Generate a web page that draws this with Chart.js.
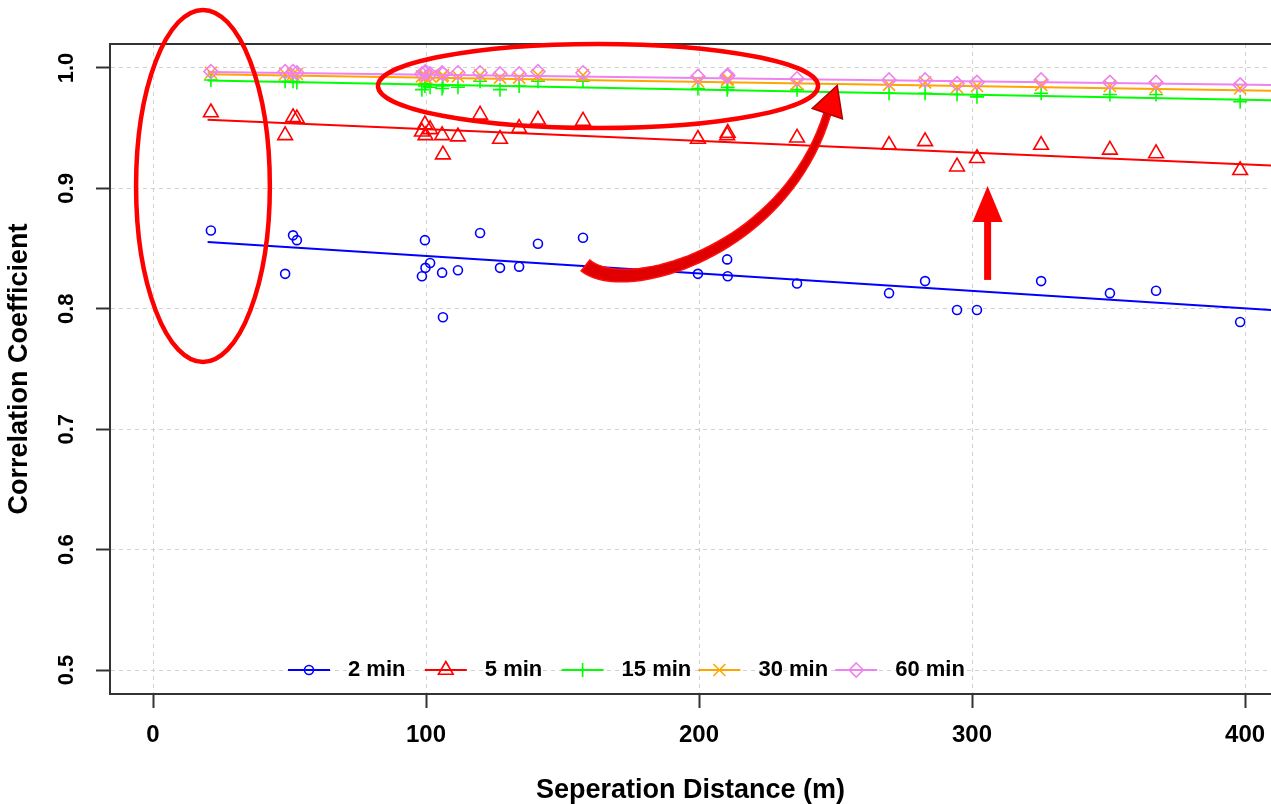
<!DOCTYPE html>
<html><head><meta charset="utf-8">
<script src="https://cdn.jsdelivr.net/npm/chart.js@4.4.1/dist/chart.umd.min.js"></script>
<style>html,body{margin:0;padding:0;background:#fff;}canvas{display:block;}</style>
</head><body>
<canvas id="c" width="1271" height="804"></canvas>
<script>
// ---- data ----
const distances = [21.2, 48.4, 51.3, 52.7, 98.5, 99.6, 99.8, 101.5, 105.9, 106.2, 111.7, 119.8, 127.1, 134.1, 141.0, 157.5, 199.6, 210.3, 210.5, 235.9, 269.6, 282.8, 294.5, 301.8, 325.3, 350.5, 367.4, 398.2];
const corr2min  = [0.865, 0.829, 0.861, 0.857, 0.827, 0.857, 0.834, 0.838, 0.830, 0.793, 0.832, 0.863, 0.834, 0.835, 0.854, 0.859, 0.829, 0.841, 0.827, 0.821, 0.813, 0.823, 0.799, 0.799, 0.823, 0.813, 0.815, 0.789];
const corr5min  = [0.963, 0.944, 0.959, 0.958, 0.947, 0.953, 0.944, 0.949, 0.944, 0.928, 0.943, 0.961, 0.941, 0.950, 0.957, 0.956, 0.941, 0.944, 0.946, 0.942, 0.936, 0.939, 0.918, 0.925, 0.936, 0.932, 0.929, 0.915];
const corr15min = [0.990, 0.989, 0.989, 0.988, 0.982, 0.985, 0.987, 0.984, 0.983, 0.985, 0.984, 0.989, 0.982, 0.985, 0.989, 0.989, 0.983, 0.982, 0.984, 0.982, 0.979, 0.979, 0.978, 0.976, 0.979, 0.978, 0.978, 0.972];
const corr30min = [0.996, 0.995, 0.995, 0.995, 0.993, 0.994, 0.992, 0.993, 0.993, 0.994, 0.993, 0.994, 0.992, 0.992, 0.994, 0.994, 0.989, 0.990, 0.991, 0.987, 0.986, 0.988, 0.984, 0.985, 0.986, 0.985, 0.984, 0.983];
const corr60min = [0.997, 0.997, 0.997, 0.996, 0.995, 0.996, 0.997, 0.995, 0.996, 0.995, 0.996, 0.996, 0.995, 0.995, 0.997, 0.996, 0.993, 0.993, 0.994, 0.991, 0.990, 0.990, 0.987, 0.988, 0.990, 0.988, 0.988, 0.986];
// fitted trend lines: value at start and end distance
const fitX      = [20, 420];
const fit2min   = [0.8555, 0.7975];
const fit5min   = [0.957, 0.918];
const fit15min  = [0.9896, 0.9728];
const fit30min  = [0.9947, 0.9807];
const fit60min  = [0.9966, 0.9856];
const seriesNames = ['2 min', '5 min', '15 min', '30 min', '60 min'];
const xTickValues = [0, 100, 200, 300, 400];
const yTickValues = [0.5, 0.6, 0.7, 0.8, 0.9, 1.0];
const yTickLabels = ['0.5', '0.6', '0.7', '0.8', '0.9', '1.0'];
const xTitle = 'Seperation Distance (m)';
const yTitle = 'Correlation Coefficient';

// ---- styles ----
const colors = ['#0000FF', '#FF0000', '#00FF00', '#FFA500', '#EE82EE'];
const pStyles = ['circle', 'triangle', 'cross', 'crossRot', 'rectRot'];
const pRadius = [4.5, 8.5, 7, 8.5, 7];
const FONT = '"Liberation Sans", Arial, sans-serif';

const seriesVals = [corr2min, corr5min, corr15min, corr30min, corr60min];
const fitVals = [fit2min, fit5min, fit15min, fit30min, fit60min];

const datasets = [];
seriesVals.forEach((vals, s) => {
  datasets.push({
    label: seriesNames[s],
    data: distances.map((d, i) => ({x: d, y: vals[i]})),
    showLine: false,
    pointStyle: pStyles[s],
    pointRadius: pRadius[s],
    pointBorderWidth: 1.6,
    pointBorderColor: colors[s],
    pointBackgroundColor: 'rgba(0,0,0,0)',
    borderColor: colors[s],
    order: (4 - s) * 2 + 1
  });
  datasets.push({
    label: seriesNames[s] + ' fit',
    data: fitX.map((d, i) => ({x: d, y: fitVals[s][i]})),
    showLine: true,
    pointRadius: 0,
    borderColor: colors[s],
    borderWidth: 2,
    fill: false,
    order: (4 - s) * 2
  });
});

function drawMarker(ctx, style, x, y, r, color) {
  ctx.save();
  ctx.strokeStyle = color; ctx.lineWidth = 1.6;
  ctx.beginPath();
  if (style === 'circle') { ctx.arc(x, y, r, 0, Math.PI * 2); }
  else if (style === 'triangle') {
    for (let k = 0; k < 3; k++) {
      const a = k * 2 * Math.PI / 3;
      const px = x + Math.sin(a) * r, py = y - Math.cos(a) * r;
      if (k === 0) ctx.moveTo(px, py); else ctx.lineTo(px, py);
    }
    ctx.closePath();
  } else if (style === 'cross') {
    ctx.moveTo(x - r, y); ctx.lineTo(x + r, y); ctx.moveTo(x, y - r); ctx.lineTo(x, y + r);
  } else if (style === 'crossRot') {
    const o = r * Math.SQRT1_2;
    ctx.moveTo(x - o, y - o); ctx.lineTo(x + o, y + o); ctx.moveTo(x - o, y + o); ctx.lineTo(x + o, y - o);
  } else if (style === 'rectRot') {
    ctx.moveTo(x, y - r); ctx.lineTo(x + r, y); ctx.lineTo(x, y + r); ctx.lineTo(x - r, y); ctx.closePath();
  }
  ctx.stroke();
  ctx.restore();
}

const framePlugin = {
  id: 'frame',
  afterDraw(chart) {
    const {ctx, chartArea} = chart;
    ctx.save();
    ctx.strokeStyle = '#333'; ctx.lineWidth = 2;
    ctx.beginPath(); ctx.moveTo(chartArea.left - 1, chartArea.top); ctx.lineTo(chartArea.right, chartArea.top); ctx.stroke();
    ctx.restore();
  }
};

const legendPlugin = {
  id: 'innerLegend',
  afterDraw(chart) {
    const {ctx, chartArea} = chart;
    const y = chartArea.bottom - 24;
    const x0 = chartArea.left + 178, step = 136.8, lineLen = 42, textOff = 60;
    ctx.save();
    ctx.font = 'bold 22px ' + FONT;
    ctx.textBaseline = 'middle'; ctx.textAlign = 'left'; ctx.fillStyle = '#000';
    seriesNames.forEach((name, s) => {
      const lx = x0 + s * step;
      ctx.strokeStyle = colors[s]; ctx.lineWidth = 2;
      ctx.beginPath(); ctx.moveTo(lx, y); ctx.lineTo(lx + lineLen, y); ctx.stroke();
      drawMarker(ctx, pStyles[s], lx + lineLen / 2, y, pRadius[s], colors[s]);
      ctx.fillText(name, lx + textOff, y);
    });
    ctx.restore();
  }
};

// hand-drawn highlight annotations (positions in data units, mapped through the scales)
const annotationPlugin = {
  id: 'marks',
  afterDraw(chart) {
    const {ctx} = chart;
    const xs = chart.scales.x, ys = chart.scales.y;
    const X = v => xs.getPixelForValue(v), Y = v => ys.getPixelForValue(v);
    const DX = d => X(d) - X(0), DY = d => Y(0) - Y(d);
    ctx.save();
    ctx.strokeStyle = '#FF0000'; ctx.lineWidth = 4.5;
    // left ellipse
    ctx.beginPath(); ctx.ellipse(X(18.3), Y(0.902), DX(24.5), DY(0.1462), 0, 0, Math.PI * 2); ctx.stroke();
    // top ellipse
    ctx.beginPath(); ctx.ellipse(X(163.0), Y(0.985), DX(80.6), DY(0.0349), 0, 0, Math.PI * 2); ctx.stroke();
    // straight arrow
    const ax = X(305.7), aTail = Y(0.824), aBase = Y(0.8738), aTip = Y(0.902);
    ctx.fillStyle = '#FF0000';
    ctx.fillRect(ax - 3.5, aBase, 7, aTail - aBase);
    ctx.beginPath(); ctx.moveTo(ax - 15, aBase + 2); ctx.lineTo(ax, aTip); ctx.lineTo(ax + 15, aBase + 2); ctx.closePath(); ctx.fill();
    // curved swoosh arrow
    const P = [[158.4, 0.836], [172.7, 0.809], [231.3, 0.846], [247.0, 0.962]].map(p => [X(p[0]), Y(p[1])]);
    const bez = t => {
      const u = 1 - t;
      return [u*u*u*P[0][0] + 3*u*u*t*P[1][0] + 3*u*t*t*P[2][0] + t*t*t*P[3][0],
              u*u*u*P[0][1] + 3*u*u*t*P[1][1] + 3*u*t*t*P[2][1] + t*t*t*P[3][1]];
    };
    const N = 40, left = [], right = [];
    for (let i = 0; i <= N; i++) {
      const t = i / N;
      const a = bez(Math.max(0, t - 0.01)), b = bez(Math.min(1, t + 0.01));
      let dx = b[0] - a[0], dy = b[1] - a[1]; const len = Math.hypot(dx, dy); dx /= len; dy /= len;
      const w = (7 - 3.5 * t);
      const c = bez(t);
      left.push([c[0] - dy * w, c[1] + dx * w]);
      right.push([c[0] + dy * w, c[1] - dx * w]);
    }
    ctx.beginPath();
    ctx.moveTo(left[0][0], left[0][1]);
    left.forEach(p => ctx.lineTo(p[0], p[1]));
    for (let i = right.length - 1; i >= 0; i--) ctx.lineTo(right[i][0], right[i][1]);
    ctx.closePath();
    ctx.fillStyle = '#E00000'; ctx.fill();
    ctx.lineWidth = 1.5; ctx.strokeStyle = '#FF1010'; ctx.stroke();
    // arrow head
    const end = bez(1), pre = bez(0.96);
    let hx = end[0] - pre[0], hy = end[1] - pre[1]; const hl = Math.hypot(hx, hy); hx /= hl; hy /= hl;
    const tip = [end[0] + hx * 30, end[1] + hy * 30];
    ctx.beginPath();
    ctx.moveTo(end[0] - hy * 16, end[1] + hx * 16);
    ctx.lineTo(tip[0], tip[1]);
    ctx.lineTo(end[0] + hy * 16, end[1] - hx * 16);
    ctx.closePath();
    ctx.fillStyle = '#FF0000'; ctx.fill();
    ctx.lineWidth = 1.5; ctx.strokeStyle = '#B00000'; ctx.stroke();
    ctx.restore();
  }
};

new Chart(document.getElementById('c'), {
  type: 'scatter',
  data: {datasets},
  options: {
    responsive: false,
    animation: false,
    devicePixelRatio: 1,
    layout: {autoPadding: false, padding: {top: 44, right: 0, bottom: 0, left: 0}},
    plugins: {legend: {display: false}, tooltip: {enabled: false}},
    scales: {
      x: {
        type: 'linear', min: -15.75, max: 409.5,
        afterBuildTicks: sc => { sc.ticks = xTickValues.map(v => ({value: v})); },
        afterFit: sc => { sc.height = 110; sc.paddingLeft = 0; sc.paddingRight = 0; },
        grid: {color: '#d0d0d0', lineWidth: 1, tickLength: 14, tickColor: '#333', tickWidth: 2},
        border: {display: true, color: '#333', width: 2, dash: [4, 4]},
        ticks: {color: '#000', padding: 13, font: {family: FONT, size: 24, weight: 'bold'},
                callback: v => String(v)},
        title: {display: true, text: xTitle, color: '#000', padding: {top: 0, bottom: 0},
                font: {family: FONT, size: 27, weight: 'bold', lineHeight: 1.0}}
      },
      y: {
        type: 'linear', min: 0.4801, max: 1.0199,
        afterBuildTicks: sc => { sc.ticks = yTickValues.map(v => ({value: v})); },
        afterFit: sc => { sc.width = 110; sc.paddingTop = 0; sc.paddingBottom = 0; },
        grid: {color: '#d0d0d0', lineWidth: 1, tickLength: 14, tickColor: '#333', tickWidth: 2},
        border: {display: true, color: '#333', width: 2, dash: [4, 4]},
        ticks: {color: '#000', padding: 14, crossAlign: 'center', minRotation: 90, maxRotation: 90,
                font: {family: FONT, size: 22, weight: 'bold'},
                callback: (v) => yTickLabels[yTickValues.findIndex(t => Math.abs(t - v) < 1e-9)]},
        title: {display: true, text: yTitle, color: '#000', padding: {top: 6, bottom: 0},
                font: {family: FONT, size: 27, weight: 'bold', lineHeight: 1.0}}
      }
    }
  },
  plugins: [framePlugin, legendPlugin, annotationPlugin]
});
</script>
</body></html>
